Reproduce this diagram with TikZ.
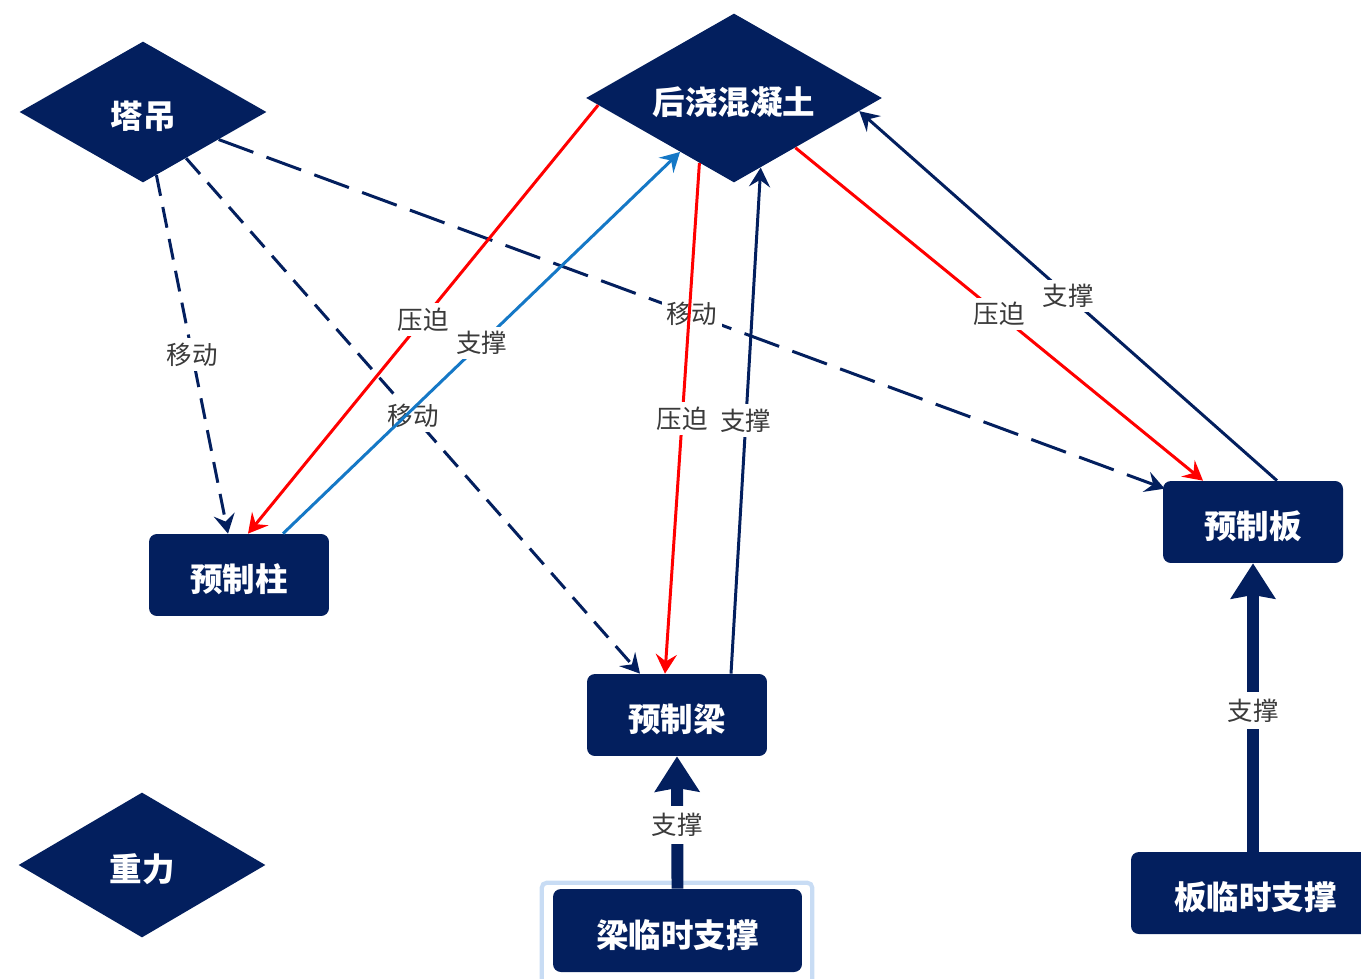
\documentclass[tikz,border=0pt]{standalone}
\usepackage{fontspec}
\setmainfont{Noto Sans CJK SC}
\usetikzlibrary{arrows.meta,shapes.geometric,calc}
\definecolor{navy}{HTML}{031F5E}
\definecolor{lineblue}{HTML}{1578C6}
\definecolor{selblue}{HTML}{C8DCF4}
\definecolor{lbltext}{HTML}{3A3A3A}
\newlength{\pxl}\setlength{\pxl}{0.02cm}
\newcommand{\nodefnt}{\fontsize{18.5pt}{20pt}\selectfont\bfseries}
\newcommand{\lblfnt}{\fontsize{14.5pt}{16pt}\selectfont}
\begin{document}
\begin{tikzpicture}[x=0.02cm,y=-0.02cm,
  dia/.style={diamond, fill=navy, inner sep=0pt, aspect=1.75, text=white, font=\nodefnt, text height=19pt, text depth=0pt},
  box/.style={rectangle, fill=navy, rounded corners=4.5pt, minimum width=3.6cm, minimum height=1.64cm, inner sep=0pt, text=white, font=\nodefnt, text height=19pt, text depth=0pt},
  lbl/.style={fill=white, text=lbltext, font=\lblfnt, inner sep=2.5pt},
  thinarr/.style={line width=1.7pt, -{Stealth[length=11pt,width=12pt,inset=4pt]}},
  thickarr/.style={line width=6.8pt, navy, -{Stealth[length=20pt,width=25pt,inset=2pt]}},
  mv/.style={thinarr, navy, dash pattern=on 12pt off 6.5pt},
  mvlong/.style={thinarr, navy, dash pattern=on 21pt off 8pt},
  press/.style={thinarr, red},
  sup/.style={thinarr, navy},
  supblue/.style={thinarr, lineblue},
  selframe/.style={draw=selblue, line width=2.4pt, rounded corners=3pt}
]
\useasboundingbox (0,0) rectangle (1361,979);

% nodes
\node[dia, minimum width=4.94cm, minimum height=2.82cm] (ta) at (143,112) {塔吊};
\node[dia, minimum width=5.92cm, minimum height=3.38cm] (hj) at (734,98) {后浇混凝土};
\node[dia, minimum width=4.94cm, minimum height=2.90cm] (zl) at (142,865) {重力};
\node[box] (zhu) at (239,575) {预制柱};
\node[box] (liang) at (677,715) {预制梁};
\node[box] (ban) at (1253,522) {预制板};
\node[box, minimum width=4.98cm, minimum height=1.66cm] (lb) at (677.5,930.5) {梁临时支撑};
\node[box, minimum width=4.98cm] (bb) at (1255.5,893) {板临时支撑};

\draw[selframe] ($(lb.north west)+(-11,-6)$) rectangle ($(lb.south east)+(10,14)$);

% dashed "移动" connectors
\draw[mv] (ta.-78) -- node[lbl, pos=0.5] {移动} ([xshift=-11*\pxl]zhu.north);
\draw[mv] (ta.-47.5) -- node[lbl, pos=0.5] {移动} ([xshift=-37*\pxl]liang.north);
\draw[mvlong] (ta.-20) -- node[lbl, pos=0.5] {移动} ([xshift=2*\pxl,yshift=-8*\pxl]ban.north west);

% solid connectors
\draw[press] (hj.-177) -- node[lbl, pos=0.5] {压迫} ([xshift=9*\pxl]zhu.north);
\draw[supblue] ([xshift=44*\pxl]zhu.north) -- node[lbl, pos=0.5] {支撑} (hj.-135);
\draw[press] (hj.-118) -- node[lbl, pos=0.5] {压迫} ([xshift=-12*\pxl]liang.north);
\draw[sup] ([xshift=54*\pxl]liang.north) -- node[lbl, pos=0.5] {支撑} (hj.-69.6);
\draw[press] (hj.-39.5) -- node[lbl, pos=0.5] {压迫} ([xshift=-50*\pxl]ban.north);
\draw[sup] ([xshift=24*\pxl]ban.north) -- node[lbl, pos=0.5] {支撑} (hj.-6.3);

% thick support connectors
\draw[thickarr] (lb.north) -- node[lbl, pos=0.48, inner sep=4pt] {支撑} (liang.south);
\draw[thickarr] ([xshift=-2.5*\pxl]bb.north) -- node[lbl, pos=0.49, inner sep=4pt] {支撑} (ban.south);
\end{tikzpicture}
\end{document}
